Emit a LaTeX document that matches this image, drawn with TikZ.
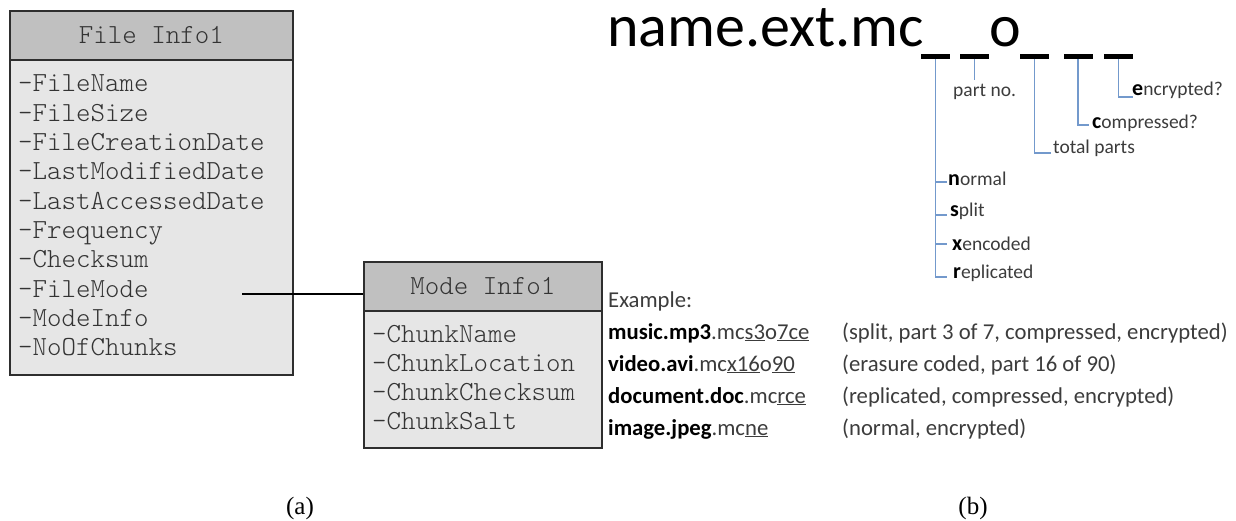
\documentclass[tikz,border=0pt]{standalone}
\usepackage{fontspec}
\setmainfont{Carlito}
\newfontfamily\monofont{Latin Modern Mono Light}
\newfontfamily\seriffont{Liberation Serif}
\usetikzlibrary{calc}

\definecolor{headgray}{HTML}{C0C0C0}
\definecolor{bodygray}{HTML}{E6E6E6}
\definecolor{edgegray}{HTML}{2E2E2E}
\definecolor{inkgray}{HTML}{333333}
\definecolor{treeblue}{HTML}{7399CC}
\definecolor{labelgray}{HTML}{3C3C3C}

\tikzset{
  boxbody/.style={draw=edgegray, line width=1.6pt, fill=bodygray, inner sep=0pt, anchor=north west},
  boxhead/.style={draw=edgegray, line width=1.6pt, fill=headgray, inner sep=0pt, anchor=north west,
    font=\monofont\fontsize{27.6}{30}\selectfont, text=inkgray},
  field/.style={anchor=base west, inner sep=0pt, font=\monofont\fontsize{27.6}{30}\selectfont, text=inkgray},
  slot/.style={fill=black, inner sep=0pt, minimum width=29pt, minimum height=4.5pt},
  tree/.style={draw=treeblue, line width=1.3pt},
  tag/.style={anchor=base west, inner sep=0pt, font=\fontsize{19.5}{22}\selectfont, text=labelgray},
  example/.style={anchor=base west, inner sep=0pt, font=\fontsize{22.7}{26}\selectfont, text=labelgray},
  caption/.style={inner sep=0pt, font=\seriffont\fontsize{25}{28}\selectfont}
}
\newcommand{\lead}[1]{{\bfseries\color{black}\fontsize{22}{22}\selectfont #1}}
\newcommand{\fname}[1]{{\bfseries\color{black}#1}}
\newcommand{\undr}[1]{\underline{#1}}

\begin{document}
\begin{tikzpicture}[x=1pt, y=-1pt]
\useasboundingbox (0,0) rectangle (1236,521);

% ---- class box: File Info1 ----
\node[boxbody, minimum width=283pt, minimum height=364pt] (file) at (9,10) {};
\node[boxhead, minimum width=283pt, minimum height=49pt] (filehead) at (9,10) {File Info1};
\foreach \t [count=\i from 0] in {FileName,FileSize,FileCreationDate,LastModifiedDate,
    LastAccessedDate,Frequency,Checksum,FileMode,ModeInfo,NoOfChunks}
  \node[field] (f\i) at (18,92+29.3*\i) {-\t};

% ---- class box: Mode Info1 ----
\node[boxbody, minimum width=238pt, minimum height=186pt] (mode) at (363,261) {};
\node[boxhead, minimum width=238pt, minimum height=49pt] (modehead) at (363,261) {Mode Info1};
\foreach \t [count=\i from 0] in {ChunkName,ChunkLocation,ChunkChecksum,ChunkSalt}
  \node[field] (m\i) at (372,342+29.3*\i) {-\t};

% FileMode -> Mode Info1
\coordinate (fm) at (242,294);
\draw[line width=2pt] (fm) -- (fm -| mode.west);

% ---- naming scheme ----
\node[anchor=base west, inner sep=0pt, font=\fontsize{60}{62}\selectfont] (stem) at (607,47) {name.ext.mc};
\node[anchor=base west, inner sep=0pt, font=\fontsize{60}{62}\selectfont] (oh) at (989,47) {o};
\node[slot] (u1) at (935.5,56.5) {};
\node[slot] (u2) at (974.5,56.5) {};
\node[slot] (u3) at (1034.5,56.5) {};
\node[slot] (u4) at (1078,56.5) {};
\node[slot] (u5) at (1118.5,56.5) {};

% mode letter
\draw[tree] (u1.south) -- ++(0,218) -- ++(11,0);
\foreach \yy in {182,215,244}
  \draw[tree] (u1.south |- 0,\yy) -- ++(11,0);
\node[tag] (nrm) at (948,186) {\lead{n}ormal};
\node[tag] (spl) at (950,217) {\lead{s}plit};
\node[tag] (xen) at (952,251) {\lead{x}encoded};
\node[tag] (rep) at (953,278) {\lead{r}eplicated};

% part number
\draw[tree] (u2.south) -- ++(0,21);
\node[tag] (pno) at (953,97) {part no.};

% total parts
\draw[tree] (u3.south) -- ++(0,94) -- ++(16,0);
\node[tag] (tot) at (1053,154) {total parts};

% compression flag
\draw[tree] (u4.south) -- ++(0,66) -- ++(11,0);
\node[tag] (cmp) at (1092,129) {\lead{c}ompressed?};

% encryption flag
\draw[tree] (u5.south) -- ++(0,38) -- ++(14,0);
\node[tag] (enc) at (1132,96) {\lead{e}ncrypted?};

% ---- examples ----
\node[example] (ex) at (608,307) {Example:};
\node[example] (e1) at (608,339) {\fname{music.mp3}.mc\undr{s3}o\undr{7ce}};
\node[example] (e2) at (608,371) {\fname{video.avi}.mc\undr{x16}o\undr{90}};
\node[example] (e3) at (608,403) {\fname{document.doc}.mc\undr{rce}};
\node[example] (e4) at (608,435) {\fname{image.jpeg}.mc\undr{ne}};
\node[example] (d1) at (842,339) {(split, part 3 of 7, compressed, encrypted)};
\node[example] (d2) at (842,371) {(erasure coded, part 16 of 90)};
\node[example] (d3) at (842,403) {(replicated, compressed, encrypted)};
\node[example] (d4) at (842,435) {(normal, encrypted)};

% ---- captions ----
\node[caption] (capa) at (300,508) {(a)};
\node[caption] (capb) at (973,508) {(b)};
\end{tikzpicture}
\end{document}
